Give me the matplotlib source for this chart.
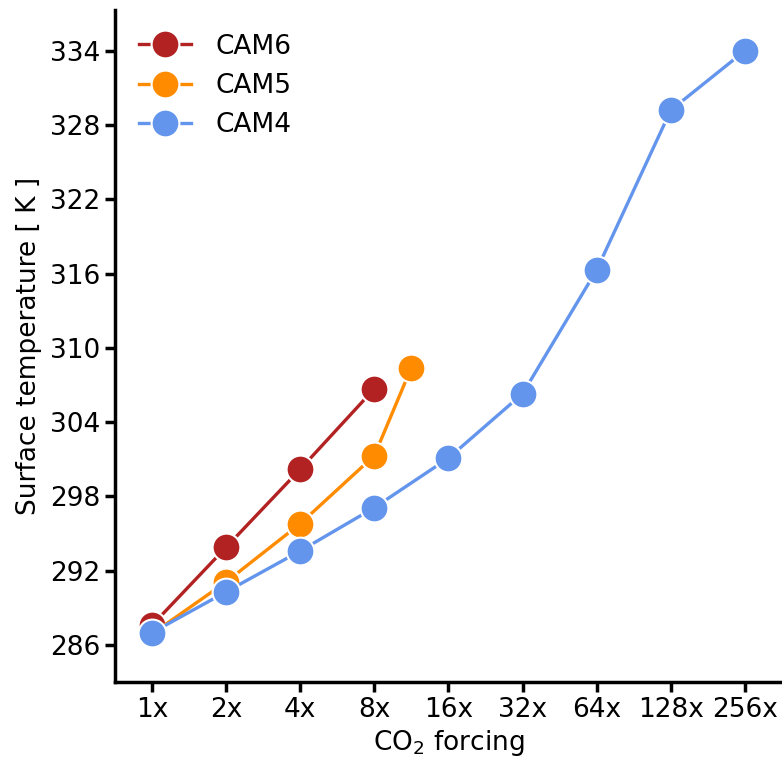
import numpy as np
import matplotlib
matplotlib.use("Agg")
import matplotlib.pyplot as plt

# CO2 multipliers and surface temperatures (K) per model
cam6_forcing = [1, 2, 4, 8]
cam6_temp = [287.6, 293.9, 300.2, 306.7]

cam5_forcing = [1, 2, 4, 8, 11.3]
cam5_temp = [286.9, 291.1, 295.8, 301.3, 308.4]

cam4_forcing = [1, 2, 4, 8, 16, 32, 64, 128, 256]
cam4_temp = [287.0, 290.3, 293.6, 297.1, 301.1, 306.3, 316.3, 329.2, 334.0]

tick_forcing = [1, 2, 4, 8, 16, 32, 64, 128, 256]
tick_labels = ["1x", "2x", "4x", "8x", "16x", "32x", "64x", "128x", "256x"]
y_ticks = [286, 292, 298, 304, 310, 316, 322, 328, 334]

series = [
    ("CAM6", cam6_forcing, cam6_temp, "#B22222"),
    ("CAM5", cam5_forcing, cam5_temp, "#FF8C00"),
    ("CAM4", cam4_forcing, cam4_temp, "#6495ED"),
]

fig = plt.figure(figsize=(7.82, 7.58), dpi=100)
ax = fig.add_axes([0.147, 0.100, 0.853, 0.887])

for name, f, t, c in series:
    ax.plot(np.log2(f), t, "-o", color=c, lw=2.4, ms=20,
            mec="white", mew=1.5, label=name)

ax.set_xticks(np.log2(tick_forcing))
ax.set_xticklabels(tick_labels)
ax.set_yticks(y_ticks)
ax.set_xlim(-0.5, 8.5)
ax.set_ylim(283.0, 337.3)

ax.tick_params(labelsize=19, width=2.5, length=7)
for s in ("top", "right"):
    ax.spines[s].set_visible(False)
for s in ("left", "bottom"):
    ax.spines[s].set_linewidth(2.5)

ax.set_xlabel("CO$_2$ forcing", fontsize=19, labelpad=4)
ax.set_ylabel("Surface temperature [ K ]", fontsize=19, labelpad=6)

ax.legend(loc="upper left", fontsize=19, frameon=False, markerscale=1.0,
          handlelength=2.0, handletextpad=0.9, borderaxespad=0.5)

fig.savefig("out.png", dpi=100)
